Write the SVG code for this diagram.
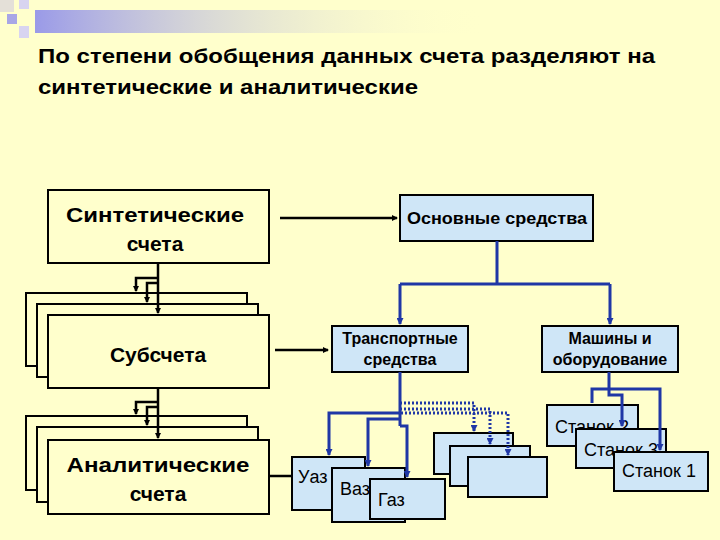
<svg xmlns="http://www.w3.org/2000/svg" width="720" height="540" viewBox="0 0 720 540">
<defs>
<linearGradient id="bar" x1="0" x2="1" y1="0" y2="0"><stop offset="0" stop-color="#9a9ae8"/><stop offset="1" stop-color="#ffffcc" stop-opacity="0"/></linearGradient>
<marker id="ab" markerWidth="6" markerHeight="6" refX="5" refY="3" orient="auto" markerUnits="userSpaceOnUse"><path d="M0,0 L6,3 L0,6 z" fill="#000"/></marker>
<marker id="au" markerWidth="7" markerHeight="7" refX="6" refY="3.5" orient="auto" markerUnits="userSpaceOnUse"><path d="M0,0 L7,3.5 L0,7 z" fill="#1f37a6"/></marker>
<style>
.k{fill:#ffffcc;stroke:#000;stroke-width:2}
.b{fill:#cfe6f7;stroke:#000;stroke-width:2}
.t{font-family:"Liberation Sans",Arial,sans-serif;font-weight:bold;fill:#000}
.r{font-family:"Liberation Sans",Arial,sans-serif;fill:#000;font-size:18px}
.c{fill:none;stroke:#000;stroke-width:2.5}
.u{fill:none;stroke:#1f37a6;stroke-width:3}
.d{fill:none;stroke:#1f37a6;stroke-width:3;stroke-dasharray:2 2}
</style>
</defs>
<rect width="720" height="540" fill="#ffffcc"/>
<g id="deco">
<rect x="0" y="0" width="14" height="12" fill="#e4e0d8"/>
<rect x="19" y="0" width="10" height="9" fill="#d8d4f0"/>
<rect x="7" y="14" width="10" height="10" fill="#a8a6e6"/>
<rect x="19" y="26" width="10" height="12" fill="#d8d4f0"/>
<rect x="35" y="10" width="450" height="23" fill="url(#bar)"/>
</g>
<g id="title" class="t" font-size="21">
<text x="38" y="63" textLength="617" lengthAdjust="spacingAndGlyphs">По степени обобщения данных счета разделяют на</text>
<text x="38" y="94" textLength="380" lengthAdjust="spacingAndGlyphs">синтетические и аналитические</text>
</g>
<g id="synt"><rect class="k" x="48" y="190" width="221" height="73"/>
<text class="t" font-size="21" text-anchor="middle" x="155" y="222" textLength="178" lengthAdjust="spacingAndGlyphs">Синтетические</text>
<text class="t" font-size="21" text-anchor="middle" x="155" y="251">счета</text></g>
<g id="sub"><rect class="k" x="26" y="293" width="221" height="73"/><rect class="k" x="37" y="304" width="221" height="73"/><rect class="k" x="48" y="315" width="221" height="73"/>
<text class="t" font-size="21" text-anchor="middle" x="158" y="362">Субсчета</text></g>
<g id="anal"><rect class="k" x="26" y="416" width="221" height="74"/><rect class="k" x="37" y="427" width="221" height="75"/><rect class="k" x="48" y="440" width="221" height="74"/>
<text class="t" font-size="21" text-anchor="middle" x="158" y="472" textLength="183" lengthAdjust="spacingAndGlyphs">Аналитические</text>
<text class="t" font-size="21" text-anchor="middle" x="158" y="501">счета</text></g>
<g id="os"><rect class="b" x="400" y="195" width="193" height="46"/><text class="t" font-size="17" text-anchor="middle" x="497" y="224" textLength="180" lengthAdjust="spacingAndGlyphs">Основные средства</text></g>
<g id="ts"><rect class="b" x="332" y="326" width="136" height="46"/><text class="t" font-size="16" text-anchor="middle" x="400" y="344">Транспортные</text><text class="t" font-size="16" text-anchor="middle" x="400" y="365">средства</text></g>
<g id="mo"><rect class="b" x="542" y="326" width="136" height="46"/><text class="t" font-size="16" text-anchor="middle" x="610" y="344">Машины и</text><text class="t" font-size="16" text-anchor="middle" x="610" y="365">оборудование</text></g>
<g id="e1"><rect class="b" x="434" y="433" width="79" height="41"/></g>
<g id="e2"><rect class="b" x="450" y="446" width="80" height="40"/></g>
<g id="e3"><rect class="b" x="468" y="457" width="79" height="40"/></g>
<g id="uaz"><rect class="b" x="292" y="457" width="73" height="53"/><text class="r" x="298" y="483">Уаз</text></g>
<g id="vaz"><rect class="b" x="332" y="468" width="73" height="54"/><text class="r" x="340" y="495">Ваз</text></g>
<g id="gaz"><rect class="b" x="370" y="479" width="75" height="40"/><text class="r" x="378" y="506">Газ</text></g>
<g id="st2"><rect class="b" x="547" y="405" width="91" height="41"/><text class="r" x="555" y="433">Станок 2</text></g>
<g id="st3"><rect class="b" x="576" y="429" width="90" height="39"/><text class="r" x="584" y="456">Станок 3</text></g>
<g id="st1"><rect class="b" x="614" y="452" width="94" height="39"/><text class="r" x="622" y="477">Станок 1</text></g>
<g id="connectors">
<path class="c" d="M158,263 V313" marker-end="url(#ab)"/>
<path class="c" d="M158,278 H136 V291" marker-end="url(#ab)"/>
<path class="c" d="M158,283 H147 V302" marker-end="url(#ab)"/>
<path class="c" d="M158,388 V438" marker-end="url(#ab)"/>
<path class="c" d="M158,402 H136 V414" marker-end="url(#ab)"/>
<path class="c" d="M158,407 H147 V425" marker-end="url(#ab)"/>
<path class="c" stroke-width="2" d="M280,218 H397" marker-end="url(#ab)"/>
<path class="c" d="M275,350 H328" marker-end="url(#ab)"/>
<path class="c" stroke-width="2" d="M269,476 H291"/>
<path class="u" d="M497,241 V284 M400,284 H610"/>
<path class="u" d="M400,284 V324" marker-end="url(#au)"/>
<path class="u" d="M610,284 V324" marker-end="url(#au)"/>
<path class="u" d="M400,372 V426"/>
<path class="u" d="M400,413 H329 V455" marker-end="url(#au)"/>
<path class="u" d="M400,419 H368 V466" marker-end="url(#au)"/>
<path class="u" d="M400,426 H407 V477" marker-end="url(#au)"/>
<path class="d" d="M400,403 H474 V431" marker-end="url(#au)"/>
<path class="d" d="M400,409 H490 V444" marker-end="url(#au)"/>
<path class="d" d="M401,413 H508 V455" marker-end="url(#au)"/>
<path class="u" d="M609,372 V395 H622 V426" marker-end="url(#au)"/>
<path class="u" d="M592,403 V389 H660 V450" marker-end="url(#au)"/>
</g>
</svg>
